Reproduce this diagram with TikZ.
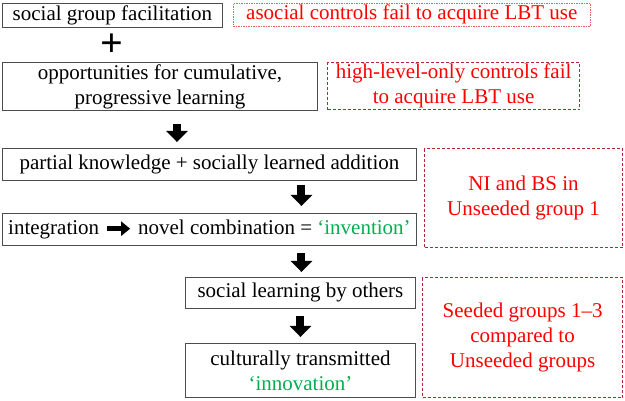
\documentclass[tikz,border=0pt]{standalone}
\usepackage{fontspec}
\setmainfont{Liberation Serif}
\usepackage{tikz}
\usetikzlibrary{arrows.meta,positioning}
\definecolor{ctlred}{RGB}{255,0,0}
\definecolor{ctlbox}{RGB}{175,40,50}
\definecolor{ctllight}{RGB}{235,95,95}
\definecolor{newgreen}{RGB}{0,176,80}

\begin{document}
\begin{tikzpicture}[x=1pt,y=-1pt,font=\fontsize{21}{25}\selectfont]
  \tikzstyle{step box}=[draw=black!70, line width=0.9pt, anchor=north west,
                        inner sep=0pt, align=center]
  \tikzstyle{ctl}=[draw=ctlbox, line width=1.2pt, dash pattern=on 3pt off 2pt,
                   anchor=north west, inner sep=0pt, align=center, text=ctlred]
  \tikzstyle{fat}=[line width=8pt, -{Triangle[width=21pt,length=11pt]}]
  \useasboundingbox (0,0) rectangle (625,401);

  % left column: the steps
  \node[step box, minimum width=220pt, minimum height=24pt] (soc)   at (2,3)   {social group facilitation};
  \node[font=\fontsize{40}{40}\bfseries\selectfont] (plus) at (112,45) {+};
  \node[step box, minimum width=315pt, minimum height=48pt] (opp)   at (2,62)  {opportunities for cumulative,\\progressive learning};
  \node[step box, minimum width=414pt, minimum height=32pt] (part)  at (2,148) {partial knowledge + socially learned addition};
  \node[step box, minimum width=414pt, minimum height=32pt] (integ) at (2,213)
    {integration \tikz[baseline=-0.6ex]\draw[line width=5.5pt,-{Triangle[width=14pt,length=9pt]}] (0pt,0pt) -- (23pt,0pt);
     novel combination = {\color{newgreen}‘invention’}};
  \node[step box, minimum width=230pt, minimum height=31pt] (learn) at (185,277) {social learning by others};
  \node[step box, minimum width=230pt, minimum height=54pt] (trans) at (185,343) {culturally transmitted\\{\color{newgreen}‘innovation’}};

  % right column: the controls
  \node[ctl, draw=ctllight, line width=0.6pt, dash pattern=on 1.5pt off 1pt,
        minimum width=357pt, minimum height=23pt] (asoc) at (233,3) {asocial controls fail to acquire LBT use};
  \node[ctl, minimum width=252pt, minimum height=47pt] (high) at (327,62)  {high-level-only controls fail\\to acquire LBT use};
  \node[ctl, minimum width=198pt, minimum height=99pt] (nibs) at (424,148) {NI and BS in\\Unseeded group 1};
  \node[ctl, minimum width=200pt, minimum height=120pt] (seed) at (422,277) {Seeded groups 1–3\\compared to\\Unseeded groups};

  % arrows
  \path (opp.south) ++(17,0) coordinate (a1);
  \path (part.south) ++(92,0) coordinate (a2);
  \path (integ.south) ++(92,0) coordinate (a3);
  \draw[fat, shorten <=13pt, shorten >=6pt] (a1) -- (a1 |- part.north);
  \draw[fat, shorten <=4pt, shorten >=7pt] (a2) -- (a2 |- integ.north);
  \draw[fat, shorten <=7pt, shorten >=5pt] (a3) -- (a3 |- learn.north);
  \draw[fat, shorten <=7pt, shorten >=6pt] (learn.south) -- (trans.north);
\end{tikzpicture}
\end{document}
